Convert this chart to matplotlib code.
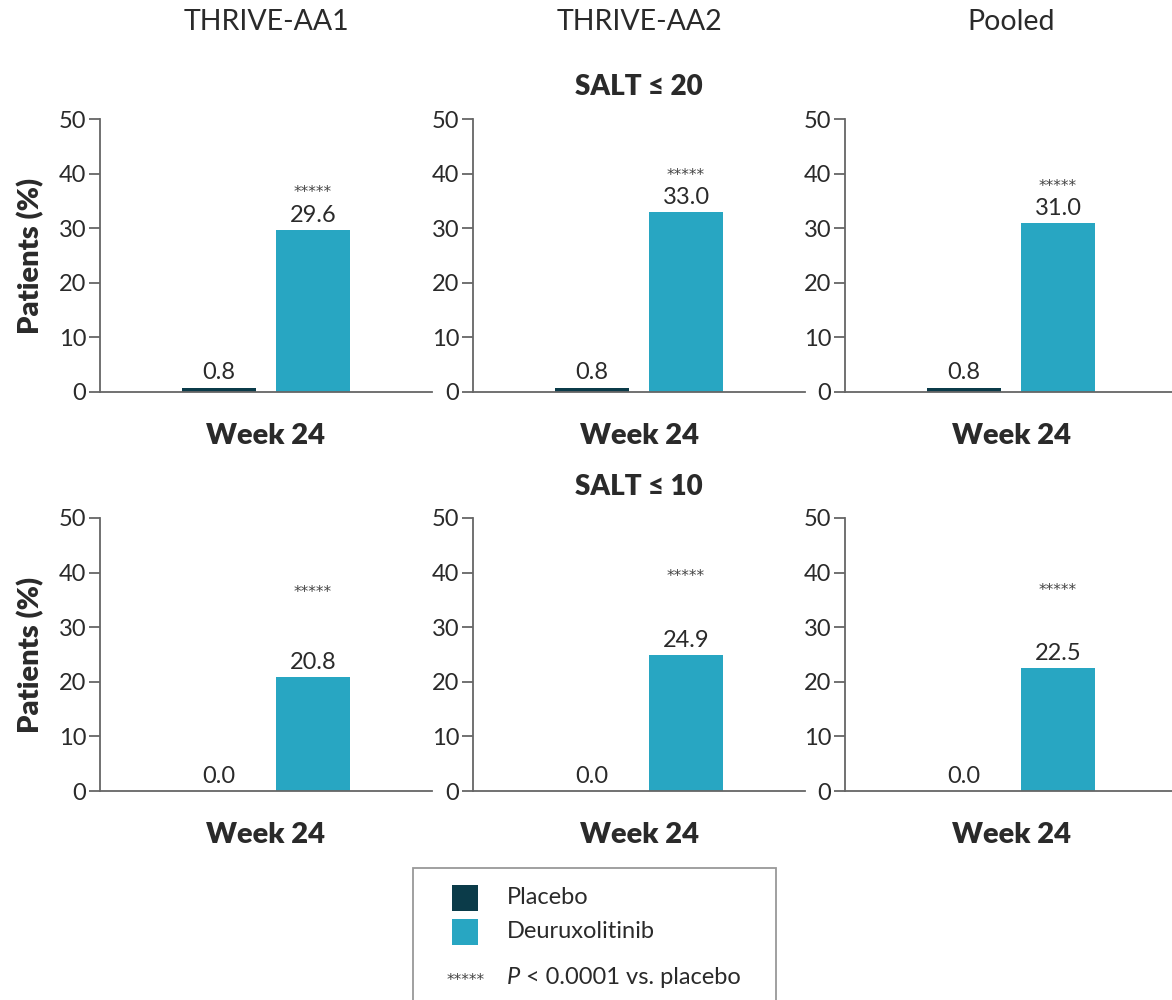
import matplotlib.pyplot as plt
from matplotlib.patches import Rectangle

plt.rcParams['font.family'] = ['Lato', 'DejaVu Sans']

# study columns and endpoint rows
studies = ['THRIVE-AA1', 'THRIVE-AA2', 'Pooled']
endpoints = ['SALT ≤ 20', 'SALT ≤ 10']
timepoint = 'Week 24'

# response rates (%) per endpoint, one value per study
placebo_salt20 = [0.8, 0.8, 0.8]
deurux_salt20 = [29.6, 33.0, 31.0]
placebo_salt10 = [0.0, 0.0, 0.0]
deurux_salt10 = [20.8, 24.9, 22.5]

placebo = [placebo_salt20, placebo_salt10]
deurux = [deurux_salt20, deurux_salt10]

# height at which the significance stars sit in each panel
star_y = [[36.6, 39.7, 37.7], [36.4, 39.2, 36.8]]

c_placebo = '#0b3b49'
c_deurux = '#28a6c2'
axis_col = '#666666'
text_col = '#2a2a2a'
star_font = ['DejaVu Sans']

fig = plt.figure(figsize=(11.72, 10), dpi=100)

lefts = [0.0853, 0.4036, 0.721]
bottoms = [0.608, 0.209]
w, h = 0.2833, 0.273
bw = 0.787

for r in range(2):
    for c in range(3):
        ax = fig.add_axes([lefts[c], bottoms[r], w, h])
        ax.bar(-0.5, placebo[r][c], bw, color=c_placebo)
        ax.bar(0.5, deurux[r][c], bw, color=c_deurux)
        ax.set_xlim(-1.766, 1.766)
        ax.set_ylim(0, 50)
        ax.set_yticks([0, 10, 20, 30, 40, 50])
        ax.set_xticks([])
        for s in ['top', 'right']:
            ax.spines[s].set_visible(False)
        for s in ['left', 'bottom']:
            ax.spines[s].set_color(axis_col)
            ax.spines[s].set_linewidth(1.3)
        ax.tick_params(axis='y', length=8, width=1.3, color=axis_col,
                       labelsize=17, labelcolor=text_col, pad=2)
        for x, v in [(-0.5, placebo[r][c]), (0.5, deurux[r][c])]:
            ax.annotate(f'{v:.1f}', (x, v), xytext=(0, 3), textcoords='offset points',
                        ha='center', va='bottom', fontsize=17, color=text_col)
        ax.text(0.5, star_y[r][c], '*****', ha='center', va='center',
                fontsize=11, color='#444444', family=star_font)
        ax.text(0.5, -0.16, timepoint, transform=ax.transAxes, ha='center',
                va='center', fontsize=21, fontweight='heavy', color=text_col)

    fig.text(0.026, bottoms[r] + h / 2, 'Patients (%)', rotation=90, ha='center',
             va='center', fontsize=21, fontweight='heavy', color=text_col)

for c, name in enumerate(studies):
    fig.text(lefts[c] + w / 2, 0.978, name, ha='center', va='center',
             fontsize=20.5, color=text_col)

fig.text(lefts[1] + w / 2, 0.913, endpoints[0], ha='center', va='center',
         fontsize=20, fontweight='heavy', color=text_col)
fig.text(lefts[1] + w / 2, 0.513, endpoints[1], ha='center', va='center',
         fontsize=20, fontweight='heavy', color=text_col)

# legend box
fig.add_artist(Rectangle((0.3524, -0.01), 0.3097, 0.142, transform=fig.transFigure,
                         facecolor='white', edgecolor='#999999', linewidth=1.3))
fig.add_artist(Rectangle((0.3857, 0.089), 0.0222, 0.026, transform=fig.transFigure,
                         facecolor=c_placebo, edgecolor='none'))
fig.add_artist(Rectangle((0.3857, 0.055), 0.0222, 0.026, transform=fig.transFigure,
                         facecolor=c_deurux, edgecolor='none'))
fig.text(0.4326, 0.102, 'Placebo', ha='left', va='center', fontsize=17, color=text_col)
fig.text(0.4326, 0.068, 'Deuruxolitinib', ha='left', va='center', fontsize=17, color=text_col)
fig.text(0.397, 0.019, '*****', ha='center', va='center', fontsize=11,
         color='#444444', family=star_font)
p = fig.text(0.4326, 0.022, 'P', ha='left', va='center', fontsize=17,
             fontstyle='italic', color=text_col)
fig.text(0.4326 + 0.016, 0.022, '< 0.0001 vs. placebo', ha='left', va='center',
         fontsize=17, color=text_col)

fig.savefig('out.png', dpi=100)
